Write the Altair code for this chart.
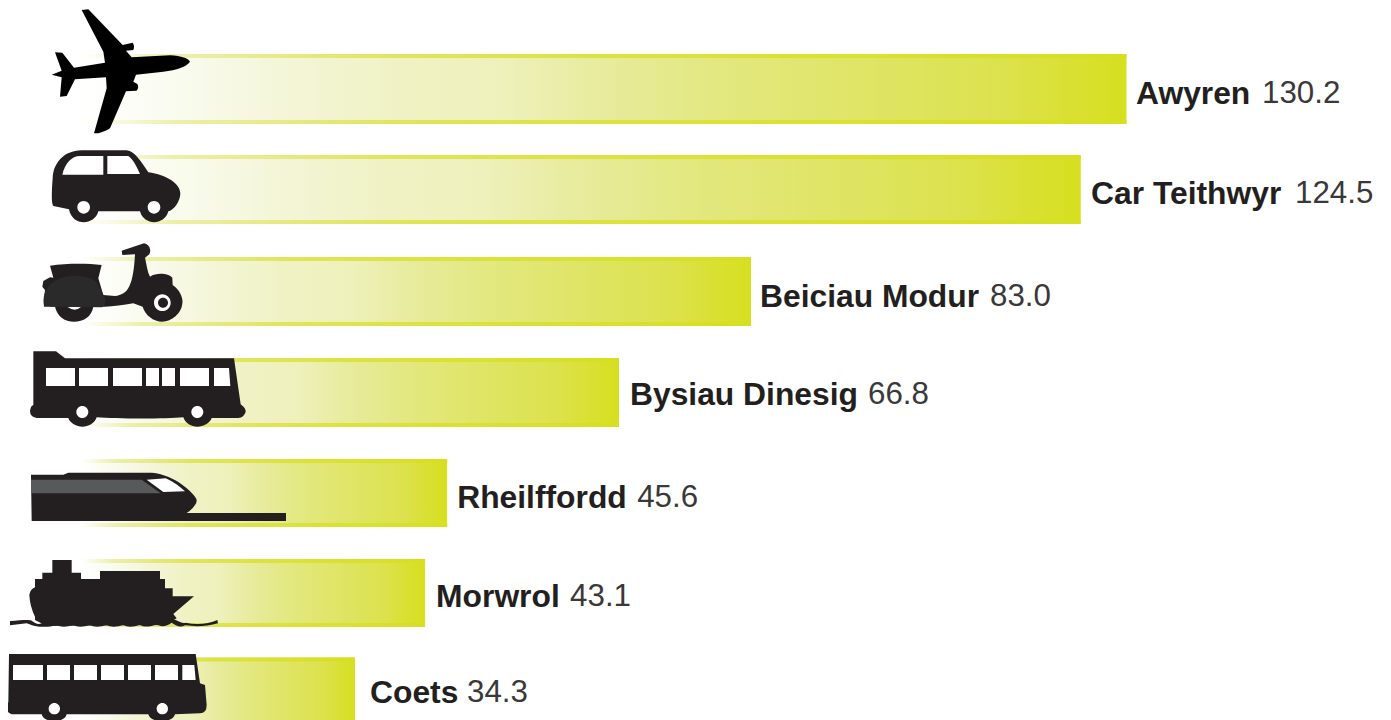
import re
import altair as alt
import pandas as pd

# ---- data ----
names = ["Awyren", "Car Teithwyr", "Beiciau Modur", "Bysiau Dinesig", "Rheilffordd", "Morwrol", "Coets"]
values = [130.2, 124.5, 83.0, 66.8, 45.6, 43.1, 34.3]
value_labels = ["130.2", "124.5", "83.0", "66.8", "45.6", "43.1", "34.3"]

df = pd.DataFrame({"name": names, "value": values, "label": value_labels})

# ---- layout ----
W, H = 1375, 712
PX_PER_UNIT = 8.03
ZERO_PX = 73.0
ROW_STEP = 100.6
ROW0 = 81.0  # first row centre inside the plot

x_scale = alt.Scale(domain=[-ZERO_PX / PX_PER_UNIT, (W - ZERO_PX) / PX_PER_UNIT], range=[0, W], nice=False, zero=False)
y_scale = alt.Scale(type="band", domain=names, range=[ROW0 - ROW_STEP / 2, ROW0 + ROW_STEP * 6.5], paddingInner=0, paddingOuter=0)
X = alt.X("value:Q", scale=x_scale, axis=None, stack=None)
Y = alt.Y("name:N", scale=y_scale, axis=None)


def grad(stops):
    return alt.Gradient(gradient="linear", x1=0, x2=1, y1=0, y2=0,
                        stops=[alt.GradientStop(offset=o, color=c) for o, c in stops])


body = grad([(0, "#ffffff"), (0.095, "#f9fbee"), (0.21, "#f3f5d5"), (0.305, "#f0f2c4"), (0.40, "#eef1bb"),
             (0.50, "#e7eb9c"), (0.60, "#e3e882"), (0.69, "#e1e670"), (0.78, "#dee45f"), (0.88, "#dce24d"),
             (0.955, "#d9e02f"), (1, "#d7df20")])
band = grad([(0, "#ffffff"), (0.095, "#ecefa8"), (0.21, "#e5e97e"), (0.305, "#e0e55b"), (0.5, "#dce33f"),
             (0.69, "#dbe132"), (1, "#d7df20")])

# small per-row adjustments seen in the drawing
bar_dx = [0, 0, 3.5, 1.6, 0, -2, -1.4]
bar_dy = [0, 0, 1.3, 1.7, 1.6, 1, 0]
bar_h = [70, 69, 69, 69, 68, 68, 70]

layers = []
for i, n in enumerate(names):
    row = alt.Chart(df[df.name == n])
    layers.append(row.mark_bar(height=bar_h[i], cornerRadius=1, color=body, xOffset=bar_dx[i], yOffset=bar_dy[i]).encode(x=X, y=Y))
    for sign in (-1, 1):
        layers.append(row.mark_bar(height=4, color=band, xOffset=bar_dx[i],
                                   yOffset=bar_dy[i] + sign * (bar_h[i] / 2 - 2)).encode(x=X, y=Y))


# ---- pictograms: outlines traced in 3x crop coordinates, anchored on each row's zero point ----
def rel(path, row, oy=0):
    ax, ay = 8 + ZERO_PX, 8 + ROW0 + row * ROW_STEP
    i = [0]

    def sub(m):
        v = float(m.group(0)) / 3
        r = v - ax if i[0] % 2 == 0 else v + oy - ay
        i[0] += 1
        return f"{r:.2f}"

    return re.sub(r"-?\d+\.?\d*", sub, path)


def circle(cx, cy, r):
    k = 0.5523 * r
    return (f"M{cx-r} {cy} C{cx-r} {cy-k} {cx-k} {cy-r} {cx} {cy-r} C{cx+k} {cy-r} {cx+r} {cy-k} {cx+r} {cy} "
            f"C{cx+r} {cy+k} {cx+k} {cy+r} {cx} {cy+r} C{cx-k} {cy+r} {cx-r} {cy+k} {cx-r} {cy} Z ")


def rect(x0, y0, x1, y1):
    return f"M{x0} {y0} L{x1} {y0} L{x1} {y1} L{x0} {y1} Z "


INK = "#231f20"
plane = ("M570 185 C560 200 530 210 490 215 L408 224 L400 245 L412 252 Q418 262 410 272 L378 274 L330 385 "
         "Q320 392 295 400 L282 400 L320 265 L318 232 L225 238 L200 288 L180 290 L185 232 L155 224 L185 212 "
         "L165 157 L187 158 L222 203 L315 188 L310 155 L245 30 L265 28 L368 135 L398 128 Q405 138 400 150 "
         "L378 152 L395 172 L510 166 C545 168 565 175 570 185 Z")
car = ("M158 535 C160 490 190 452 245 451 L380 451 C405 455 420 480 445 517 C500 525 540 550 541 580 "
       "C541 605 520 632 505 634 C500 655 480 667 462 667 C445 667 425 655 420 634 L295 634 "
       "C290 655 270 667 251 667 C232 667 212 655 207 628 L160 618 Q152 610 158 535 Z")
car_w = ("M187 524 C195 490 215 468 240 468 L310 468 L310 524 Z M322 468 L385 468 C400 478 410 500 420 522 L322 522 Z "
         + circle(251, 622, 19) + circle(462, 622, 19))
scooter = ("M365 47 L432 25 C448 28 455 45 448 58 L435 68 C440 90 442 110 450 125 C470 112 505 115 517 128 L518 150 "
           "C540 165 550 190 547 205 C545 235 515 260 487 260 C460 260 435 240 428 215 L400 205 C370 210 340 215 315 215 "
           "L280 215 C275 245 250 260 222 260 C195 260 172 245 165 215 L140 212 L132 190 L135 165 L127 155 L130 138 "
           "L150 127 L160 128 L150 92 C200 85 260 85 305 90 L295 130 L310 180 L345 183 C385 180 400 150 405 58 L367 60 Z")
scooter_w = circle(487, 203, 25) + "M203 216 L243 216 Q225 232 203 216 Z"
scooter_in = circle(489, 203, 15)
scooter_f = "M132 215 C128 190 130 165 160 140 C200 115 270 115 295 150 L315 190 C318 205 312 215 305 217 Z"
bus = ("M100 349 L168 349 L195 370 L702 370 L722 508 Q738 520 737 530 Q732 548 715 549 L635 549 C630 565 610 575 592 575 "
       "C575 575 555 565 550 547 C500 552 350 552 290 547 C285 565 265 575 247 575 C230 575 210 565 205 549 L110 549 "
       "Q90 545 90 528 Q92 512 100 510 Z")
bus_w = ("".join(rect(a, 399, b, 453) for a, b in [(138, 225), (237, 324), (339, 426), (438, 477), (486, 525), (540, 627)])
         + "M642 399 L687 399 L691 453 L642 453 Z " + circle(247, 531, 18) + circle(592, 531, 18))
train = ("M93 14 L190 14 L205 8 L455 8 C500 10 560 45 585 80 Q595 92 585 105 Q575 120 560 129 L858 129 L858 153 L95 153 Z")
train_g = "M93 29 L425 29 L482 70 L93 70 Z"
train_w = "M440 29 L497 25 C520 35 540 50 555 64 L490 66 Z"
ship = ("M157 270 L215 270 L215 308 L243 308 L243 327 L300 327 L300 303 L480 303 L480 327 L495 327 L495 355 L518 355 "
        "L518 379 L582 379 L520 432 L530 445 L520 450 L500 465 L140 468 L105 450 L105 440 Q90 410 88 375 Q90 358 105 352 "
        "L105 327 L127 327 L127 308 L157 308 Z")
wave = ("M30 453 C60 452 85 448 95 452 C105 458 112 465 125 460 L135 455 L520 447 C535 452 545 462 557 458 "
        "C590 465 625 462 652 450 L654 460 C620 470 585 470 555 466 C540 475 525 465 515 458 C500 470 480 472 470 462 "
        "C450 472 430 472 420 464 C400 472 380 472 370 464 C350 472 330 472 320 464 C300 472 280 472 270 464 "
        "C250 472 230 472 220 464 C200 472 180 472 170 464 C150 472 125 472 105 468 C95 468 90 462 80 460 L30 466 Z")
coach = ("M27 552 L587 552 L600 640 L615 645 L620 705 Q620 730 600 730 L525 733 C520 760 450 760 445 733 "
         "L200 733 C195 760 130 760 125 733 L35 733 Q18 725 18 712 Q20 700 25 697 Z")
coach_w = ("".join(rect(a, 585, b, 630) for a, b in [(39, 129), (141, 210), (222, 291), (303, 372), (384, 453), (465, 534)])
           + "M547 585 L583 585 L587 630 L547 630 Z " + circle(163, 716, 17) + circle(487, 716, 17))

icons = [
    (0, 0, plane, "#000000"),
    (1, 0, car, INK), (1, 0, car_w, "#ffffff"),
    (2, 235, scooter, INK), (2, 235, scooter_w, "#ffffff"), (2, 235, scooter_in, INK), (2, 235, scooter_f, "#2b2a2b"),
    (3, 235, bus, INK), (3, 235, bus_w, "#ffffff"),
    (4, 470, train, INK), (4, 470, train_g, "#58595b"), (4, 470, train_w, "#ffffff"),
    (5, 470, ship, INK), (5, 470, wave, INK),
    (6, 470, coach, INK), (6, 470, coach_w, "#ffffff"),
]
for row, oy, path, col in icons:
    layers.append(
        alt.Chart(df[df.name == names[row]])
        .mark_point(shape=rel(path, row, oy), size=4, filled=True, color=col, opacity=1, strokeWidth=0)
        .encode(x=alt.X(datum=0, scale=x_scale, axis=None), y=Y)
    )

# ---- labels: bold name then lighter value ----
name_dx = [9.5, 10.3, 12.5, 12.6, 10, 9, 13.6]
value_dx = [135.5, 214.3, 242.5, 250.6, 190, 143, 110.6]
label_dy = [5, 4.5, 6.5, 4.5, 7, 5, 0.5]
for i, n in enumerate(names):
    row = alt.Chart(df[df.name == n])
    layers.append(row.mark_text(align="left", baseline="middle", dx=name_dx[i], dy=label_dy[i], font="Liberation Sans",
                                fontSize=31.8, fontWeight="bold", color=INK).encode(x=X, y=Y, text="name:N"))
    layers.append(row.mark_text(align="left", baseline="middle", dx=value_dx[i], dy=label_dy[i], font="Liberation Sans",
                                fontSize=31.3, color="#3a3839").encode(x=X, y=Y, text="label:N"))

chart = (
    alt.layer(*layers)
    .properties(width=W, height=H, padding=0, autosize=alt.AutoSizeParams(type="none"), background="#ffffff")
    .configure_view(stroke=None)
)
chart.save("out.html", embed_options={"renderer": "svg", "actions": False})
